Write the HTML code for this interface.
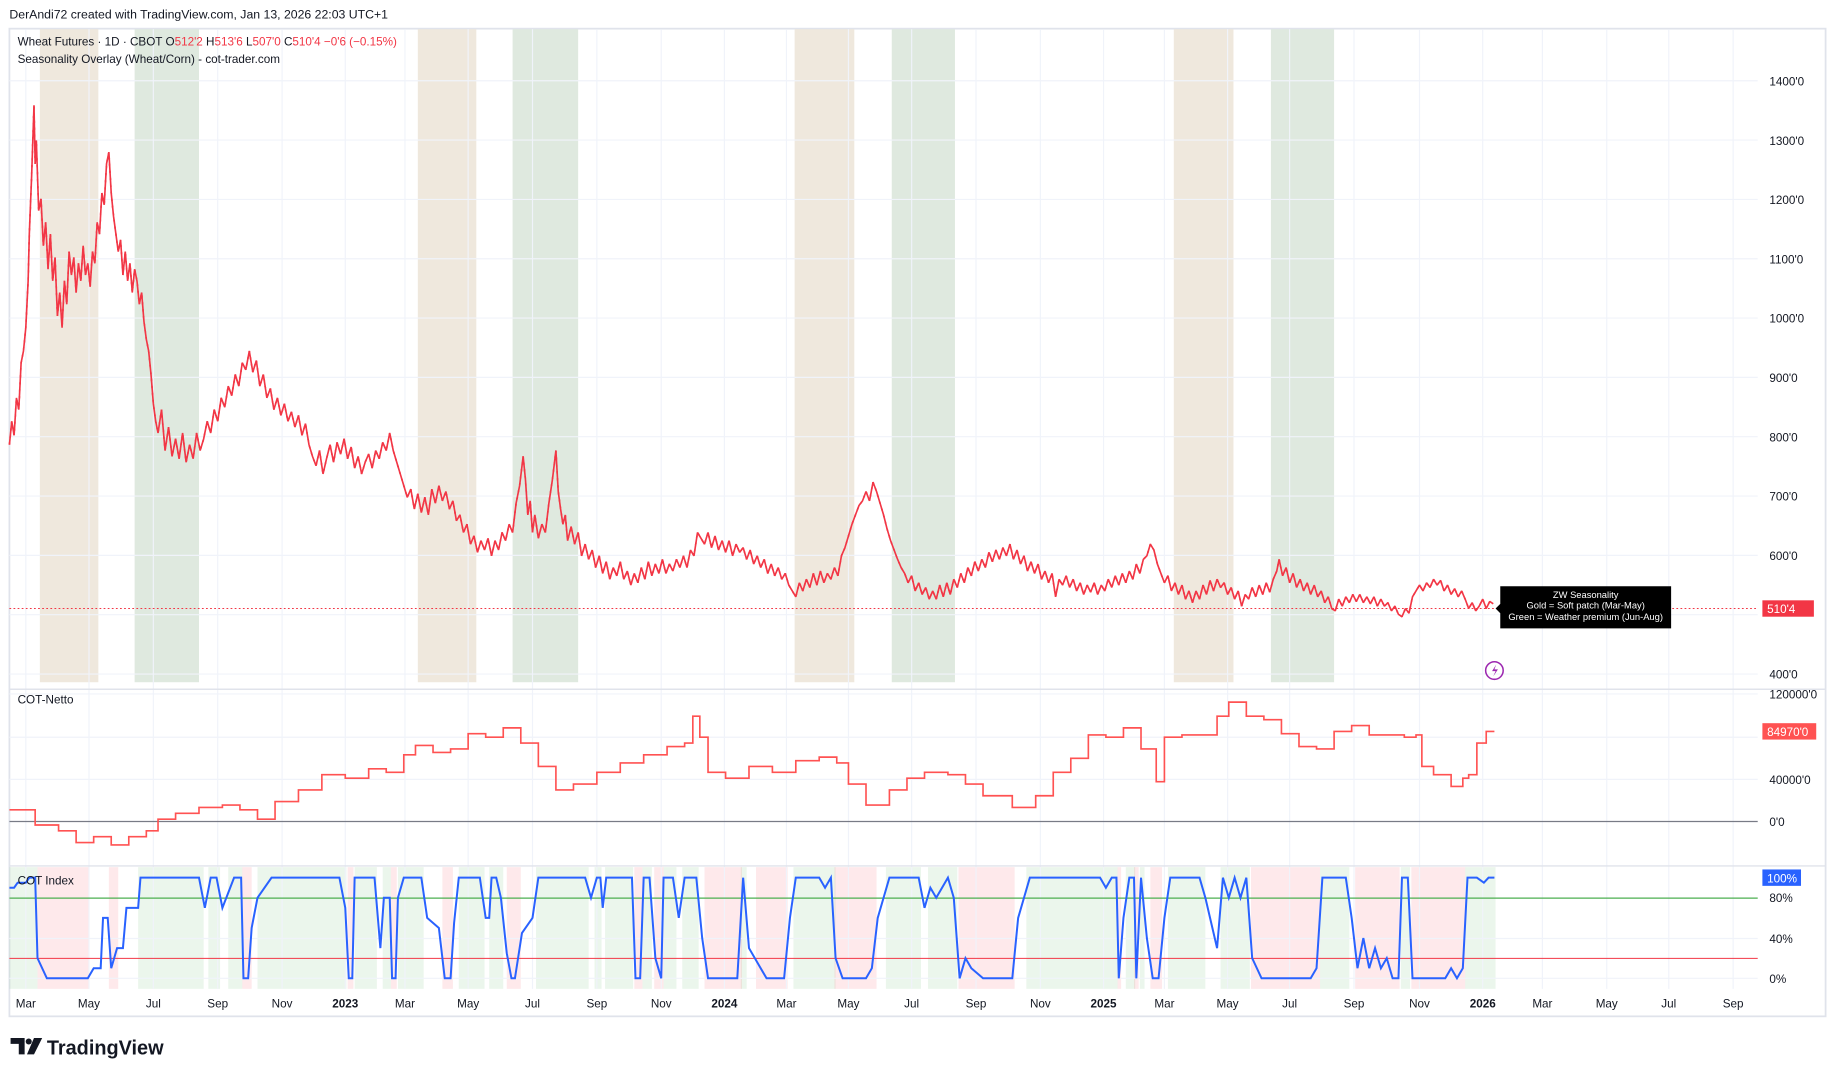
<!DOCTYPE html>
<html><head><meta charset="utf-8"><style>
html,body{margin:0;padding:0;background:#fff;}
svg{display:block;font-family:"Liberation Sans","DejaVu Sans",sans-serif;}
</style></head><body>
<svg width="1835" height="1078" viewBox="0 0 1568 921.2" xmlns="http://www.w3.org/2000/svg" xmlns:xlink="http://www.w3.org/1999/xlink">
<rect x="0" y="0" width="1568" height="922" fill="#fff"/>
<text x="8" y="16" font-size="10.5" fill="#131722">DerAndi72 created with TradingView.com, Jan 13, 2026 22:03 UTC+1</text>
<rect x="8" y="24.5" width="1552" height="844" fill="none" stroke="#e0e3eb" stroke-width="1.5"/>
<g>
<rect x="34" y="25" width="50" height="558" fill="#efe8dd"/>
<rect x="115" y="25" width="55" height="558" fill="#dfe9df"/>
<rect x="357" y="25" width="50" height="558" fill="#efe8dd"/>
<rect x="438" y="25" width="56" height="558" fill="#dfe9df"/>
<rect x="679" y="25" width="51" height="558" fill="#efe8dd"/>
<rect x="762" y="25" width="54" height="558" fill="#dfe9df"/>
<rect x="1003" y="25" width="51" height="558" fill="#efe8dd"/>
<rect x="1086" y="25" width="54" height="558" fill="#dfe9df"/>
</g>
<g>
<g fill="rgba(76,175,80,0.11)">
<rect x="8" y="741" width="24" height="104"/><rect x="118" y="741" width="56" height="104"/><rect x="178" y="741" width="10" height="104"/><rect x="195" y="741" width="12" height="104"/>
<rect x="220" y="741" width="76" height="104"/><rect x="303" y="741" width="19" height="104"/><rect x="327" y="741" width="7" height="104"/><rect x="340" y="741" width="22" height="104"/>
<rect x="392" y="741" width="22" height="104"/><rect x="418" y="741" width="12" height="104"/><rect x="458" y="741" width="45" height="104"/><rect x="508" y="741" width="6" height="104"/><rect x="517" y="741" width="24" height="104"/>
<rect x="549" y="741" width="8" height="104"/><rect x="567" y="741" width="11" height="104"/><rect x="583" y="741" width="14" height="104"/><rect x="633" y="741" width="5" height="104"/>
<rect x="678" y="741" width="36" height="104"/><rect x="757" y="741" width="30" height="104"/><rect x="793" y="741" width="25" height="104"/>
<rect x="877" y="741" width="78" height="104"/><rect x="962" y="741" width="8" height="104"/><rect x="974" y="741" width="4" height="104"/>
<rect x="998" y="741" width="32" height="104"/><rect x="1043" y="741" width="25" height="104"/><rect x="1128" y="741" width="25" height="104"/><rect x="1197" y="741" width="8" height="104"/><rect x="1252" y="741" width="26" height="104"/>
</g>
<g fill="rgba(242,54,69,0.11)">
<rect x="32" y="741" width="44" height="104"/><rect x="93" y="741" width="8" height="104"/><rect x="207" y="741" width="8" height="104"/><rect x="297" y="741" width="5" height="104"/>
<rect x="334" y="741" width="5" height="104"/><rect x="378" y="741" width="9" height="104"/><rect x="433" y="741" width="12" height="104"/><rect x="542" y="741" width="7" height="104"/>
<rect x="559" y="741" width="8" height="104"/><rect x="602" y="741" width="32" height="104"/><rect x="646" y="741" width="27" height="104"/><rect x="713" y="741" width="36" height="104"/>
<rect x="819" y="741" width="48" height="104"/><rect x="955" y="741" width="3" height="104"/><rect x="969" y="741" width="4" height="104"/><rect x="983" y="741" width="10" height="104"/>
<rect x="1069" y="741" width="59" height="104"/><rect x="1158" y="741" width="38" height="104"/><rect x="1206" y="741" width="46" height="104"/>
</g>
</g>
<g stroke="#f0f3fa" stroke-width="1">
<path d="M22 25V845M76 25V845M131 25V845M186 25V845M241 25V845M295 25V845M346 25V845M400 25V845M455 25V845M510 25V845M565 25V845M619 25V845M672 25V845M725 25V845M779 25V845M834 25V845M889 25V845M943 25V845M995 25V845M1049 25V845M1102 25V845M1157 25V845M1213 25V845M1267 25V845M1318 25V845M1373 25V845M1426 25V845M1481 25V845"/>
<path d="M8 576H1502M8 525.3H1502M8 474.6H1502M8 423.9H1502M8 373.2H1502M8 322.5H1502M8 271.8H1502M8 221.1H1502M8 170.4H1502M8 119.7H1502M8 69H1502M8 593H1502M8 630H1502M8 666H1502M8 802H1502M8 836H1502"/>
</g>
<g fill="none" stroke-linejoin="bevel">
<path id="pp" d="M8 380 L10 360 12 372 14 340 16 350 18 310 20 300 22 280 24 240 25 200 27 150 29 90 30 140 31 120 33 180 35 170 37 210 39 190 41 230 43 200 45 240 47 220 49 270 51 250 53 280 55 240 57 260 59 215 61 235 63 220 65 250 67 225 69 240 71 210 73 235 75 225 77 245 79 215 81 225 83 190 85 200 87 165 89 175 91 140 93 130 95 165 97 185 99 200 101 215 103 205 105 235 107 215 109 240 111 225 113 250 115 230 117 240 119 260 121 250 123 275 125 290 127 300 129 320 131 345 133 360 135 370 138 350 141 385 144 365 147 390 150 375 153 392 156 370 159 395 162 380 165 392 168 370 171 385 174 375 177 360 180 370 183 350 186 360 189 340 192 348 195 330 198 338 201 320 204 330 207 310 210 316 213 300 216 318 219 308 222 330 225 320 228 340 231 332 234 350 237 340 240 355 243 345 246 360 249 352 252 365 255 355 258 372 261 362 264 380 267 390 270 398 273 385 276 405 279 392 282 380 285 395 288 378 291 388 294 375 297 392 300 382 303 400 306 390 309 405 312 395 315 388 318 400 321 385 324 392 327 378 330 385 333 370 336 385 339 395 342 405 345 415 348 425 351 418 354 435 357 422 360 438 363 425 366 440 369 418 372 430 375 415 378 428 381 420 384 435 387 428 390 445 393 440 396 455 399 448 402 465 405 458 408 472 411 462 414 470 417 460 420 475 423 462 426 470 429 455 432 462 435 448 438 455 441 430 444 415 447 390 449 410 451 440 453 428 455 455 457 440 460 460 463 448 466 455 469 430 472 410 475 385 477 420 479 435 481 448 483 440 485 462 488 450 491 465 494 455 497 475 500 465 503 478 506 470 509 485 512 475 515 490 518 480 521 495 524 485 527 492 530 480 533 495 536 488 539 500 542 490 545 498 548 485 551 495 554 480 557 492 560 482 563 490 566 478 569 490 572 482 575 488 578 478 581 485 584 475 587 485 590 470 593 475 596 455 599 460 602 465 605 455 608 468 611 458 614 470 617 462 620 472 623 462 626 475 629 465 632 472 635 468 638 478 641 470 644 482 647 475 650 485 653 478 656 490 659 482 662 492 665 485 668 495 671 490 674 500 677 505 680 510 683 498 686 505 689 495 692 502 695 490 698 500 701 488 704 498 707 490 710 495 713 485 716 492 719 475 722 468 725 458 728 448 731 440 734 432 737 428 740 420 743 428 746 412 749 420 752 430 755 440 758 452 761 462 764 470 767 478 770 485 773 490 776 498 779 492 782 505 785 498 788 508 791 502 794 512 797 505 800 512 803 500 806 510 809 498 812 508 815 495 818 502 821 490 824 498 827 485 830 492 833 480 836 488 839 478 842 485 845 472 848 480 851 470 854 478 857 468 860 475 863 465 866 478 869 470 872 482 875 475 878 488 881 480 884 490 887 482 890 495 893 488 896 498 899 490 902 510 905 495 908 500 911 492 914 502 917 495 920 505 923 498 926 508 929 500 932 506 935 498 938 508 941 500 944 505 947 495 950 502 953 492 956 500 959 490 962 498 965 488 968 495 971 482 974 490 977 478 980 475 983 465 986 470 989 482 992 490 995 498 998 492 1001 505 1004 498 1007 508 1010 500 1013 512 1016 505 1019 515 1022 505 1025 512 1028 500 1031 508 1034 496 1037 505 1040 495 1043 502 1046 498 1049 508 1052 502 1055 512 1058 505 1061 518 1064 508 1067 512 1070 502 1073 510 1076 500 1079 508 1082 498 1085 506 1088 495 1091 488 1093 478 1096 492 1099 485 1102 498 1105 490 1108 502 1111 495 1114 505 1117 498 1120 508 1123 500 1126 510 1129 505 1132 515 1135 510 1138 520 1141 522 1144 512 1147 518 1150 510 1153 515 1156 508 1159 514 1162 508 1165 515 1168 510 1171 516 1174 510 1177 518 1180 512 1183 518 1186 515 1189 522 1192 518 1195 525 1198 527 1201 520 1204 524 1207 510 1210 505 1213 500 1216 505 1219 498 1222 502 1225 495 1228 500 1231 496 1234 505 1237 500 1240 508 1243 503 1246 510 1249 505 1252 512 1255 520 1258 515 1261 522 1264 518 1267 512 1270 520 1273 514 1276 516" stroke="#f23645" stroke-width="1.4"/>
<use xlink:href="#pp" href="#pp" stroke="#089981" stroke-width="1.4" stroke-dasharray="2,4"/>
</g>
<line x1="8" y1="520" x2="1502" y2="520" stroke="#f23645" stroke-width="0.8" stroke-dasharray="1.5,2"/>
<line x1="8" y1="589" x2="1560" y2="589" stroke="#e0e3eb" stroke-width="1.2"/>
<line x1="8" y1="740" x2="1560" y2="740" stroke="#e0e3eb" stroke-width="1.2"/>
<line x1="8" y1="702" x2="1502" y2="702" stroke="#787b86" stroke-width="1"/>
<line x1="8" y1="767.5" x2="1502" y2="767.5" stroke="#4caf50" stroke-width="1"/>
<line x1="8" y1="819" x2="1502" y2="819" stroke="#f23645" stroke-width="0.9"/>
<path fill="none" stroke="#ff5252" stroke-width="1.4" d="M8 692H20V692H30V705H50V710H65V720H80V715H95V722H110V715H125V710H135V700H150V695H170V690H190V688H205V692H220V700H235V685H255V675H275V662H295V665H315V657H330V660H345V645H355V637H370V643H385V640H400V627H415V630H430V622H445V635H460V655H475V675H490V670H510V660H530V652H550V645H570V638H585V635H592V612H598V630H605V660H620V665H640V655H660V660H680V650H700V647H715V652H725V670H740V688H760V675H775V665H790V660H810V662H825V670H840V680H865V690H885V680H900V660H915V648H930V628H945V630H960V622H975V640H988V668H995V630H1010V628H1025V628H1040V612H1050V600H1065V612H1080V615H1095V627H1110V638H1125V640H1140V625H1155V620H1170V628H1185V628H1200V630H1210V628H1215V655H1225V662H1240V672H1250V665H1255V662H1262V635H1270V625H1277"/>
<g transform="translate(0,836) scale(1,-0.86)">
<path fill="none" stroke="#2962ff" stroke-width="2" vector-effect="non-scaling-stroke" d="M8 90L12 90 15 95 22 95 25 100 30 100 32 20 40 0 75 0 80 10 86 10 88 60 92 60 95 10 100 30 105 30 108 70 118 70 120 100 170 100 175 70 180 100 185 100 190 70 200 100 206 100 208 0 212 0 215 50 220 80 232 100 290 100 295 70 298 0 301 0 303 100 320 100 325 30 328 80 333 80 335 0 338 0 340 80 345 100 360 100 365 60 375 50 380 0 385 0 388 55 392 100 410 100 415 60 418 60 420 100 424 100 428 80 433 25 437 0 440 0 446 45 455 60 460 100 500 100 505 80 510 100 513 100 515 70 518 100 540 100 543 0 547 0 550 100 555 100 560 20 565 0 567 100 575 100 580 60 585 100 595 100 600 40 605 0 630 0 635 100 640 30 650 10 655 0 670 0 675 60 680 100 700 100 705 90 710 100 714 20 720 0 740 0 745 10 750 60 760 100 785 100 790 70 795 90 800 80 810 100 815 80 820 0 825 20 830 10 840 0 865 0 870 60 880 100 940 100 945 90 950 100 954 100 956 0 960 60 965 100 969 100 971 0 975 100 980 40 985 0 990 0 995 60 1000 100 1025 100 1030 80 1040 30 1045 100 1050 80 1055 100 1060 80 1065 100 1070 20 1078 0 1120 0 1125 10 1130 100 1150 100 1155 60 1160 10 1165 40 1170 10 1175 30 1180 10 1185 20 1190 0 1195 0 1198 100 1203 100 1207 0 1235 0 1240 10 1245 0 1250 10 1254 100 1262 100 1268 95 1272 100 1277 100"/>
</g>
<text x="15" y="39" font-size="10" fill="#131722">Wheat Futures · 1D · CBOT  O<tspan fill="#f23645">512'2</tspan>  H<tspan fill="#f23645">513'6</tspan>  L<tspan fill="#f23645">507'0</tspan>  C<tspan fill="#f23645">510'4</tspan>  <tspan fill="#f23645">−0'6 (−0.15%)</tspan></text>
<text x="15" y="54" font-size="10" fill="#131722">Seasonality Overlay (Wheat/Corn) - cot-trader.com</text>
<text x="15" y="601" font-size="10" fill="#131722">COT-Netto</text>
<text x="15" y="756" font-size="10" fill="#131722">COT Index</text>
<g font-size="10" fill="#131722">
<text x="1512" y="580">400'0</text><text x="1512" y="478.6">600'0</text><text x="1512" y="427.9">700'0</text><text x="1512" y="377.2">800'0</text><text x="1512" y="326.5">900'0</text><text x="1512" y="275.8">1000'0</text><text x="1512" y="225.1">1100'0</text><text x="1512" y="174.4">1200'0</text><text x="1512" y="123.7">1300'0</text><text x="1512" y="73">1400'0</text>
<text x="1512" y="597">120000'0</text><text x="1512" y="670">40000'0</text><text x="1512" y="706">0'0</text>
<text x="1512" y="771">80%</text><text x="1512" y="806">40%</text><text x="1512" y="840">0%</text>
</g>
<g font-size="10" fill="#131722" text-anchor="middle">
<text x="22" y="861">Mar</text><text x="76" y="861">May</text><text x="131" y="861">Jul</text><text x="186" y="861">Sep</text><text x="241" y="861">Nov</text><text x="295" y="861" font-weight="bold">2023</text><text x="346" y="861">Mar</text><text x="400" y="861">May</text><text x="455" y="861">Jul</text><text x="510" y="861">Sep</text><text x="565" y="861">Nov</text><text x="619" y="861" font-weight="bold">2024</text><text x="672" y="861">Mar</text><text x="725" y="861">May</text><text x="779" y="861">Jul</text><text x="834" y="861">Sep</text><text x="889" y="861">Nov</text><text x="943" y="861" font-weight="bold">2025</text><text x="995" y="861">Mar</text><text x="1049" y="861">May</text><text x="1102" y="861">Jul</text><text x="1157" y="861">Sep</text><text x="1213" y="861">Nov</text><text x="1267" y="861" font-weight="bold">2026</text><text x="1318" y="861">Mar</text><text x="1373" y="861">May</text><text x="1426" y="861">Jul</text><text x="1481" y="861">Sep</text>
</g>
<rect x="1506" y="513" width="44" height="14" fill="#f23645"/>
<text x="1510" y="524" font-size="10" fill="#fff">510'4</text>
<rect x="1506" y="618" width="46" height="14" fill="#ff5252"/>
<text x="1510" y="629" font-size="10" fill="#fff">84970'0</text>
<rect x="1506" y="743" width="33" height="14" fill="#2962ff"/>
<text x="1510" y="754" font-size="10" fill="#fff">100%</text>
<path d="M1282 501 h146 v36 h-146 v-13 l-4 -4 l4 -4 z" fill="#000"/>
<g font-size="8" fill="#fff" text-anchor="middle">
<text x="1355" y="511">ZW Seasonality</text>
<text x="1355" y="520">Gold  = Soft patch (Mar-May)</text>
<text x="1355" y="530">Green = Weather premium (Jun-Aug)</text>
</g>
<circle cx="1277" cy="573" r="7.5" fill="none" stroke="#9c27b0" stroke-width="1.3"/>
<path d="M1278.5 568 l-3.5 5.5 h3 l-2 4.5 l4 -6 h-3 z" fill="#9c27b0"/>
<g transform="translate(9,887)">
<path d="M0 0 h12 v14 h-5 v-9 h-7 z" fill="#131722"/>
<circle cx="15.5" cy="3" r="2.6" fill="#131722"/>
<path d="M20 0 h7 l-7 14 h-6 z" fill="#131722"/>
<text x="31" y="14" font-size="17" font-weight="bold" fill="#131722">TradingView</text>
</g>
</svg>
</body></html>
